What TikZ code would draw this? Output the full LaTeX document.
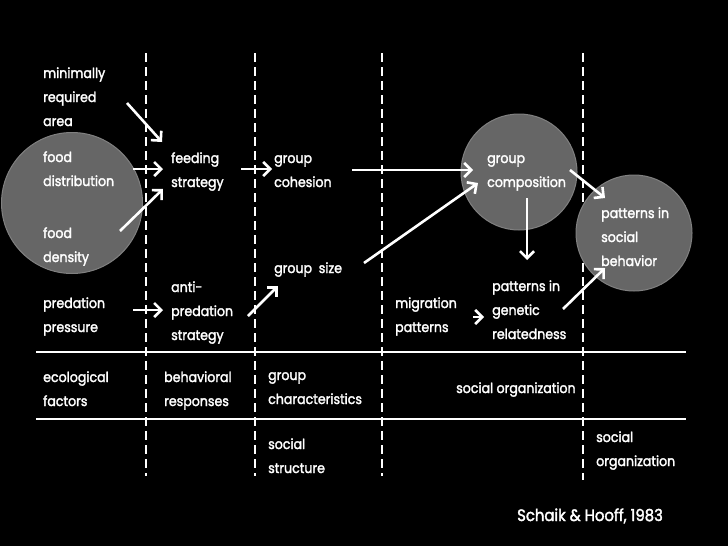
\documentclass[tikz,border=0pt]{standalone}
\usepackage{fontspec}
\setmainfont{Poppins}[FakeStretch=0.9,FakeBold=2]
\usetikzlibrary{arrows.meta}
\definecolor{discfill}{HTML}{666666}
\definecolor{discedge}{HTML}{808080}
\tikzset{
  lbl/.style={anchor=base west, inner sep=0pt, align=left, text=white,
    font=\fontsize{14}{24}\selectfont},
  flow/.style={white, line width=2.6pt, -{Straight Barb[length=7pt,width=14pt]}},
  divider/.style={white, line width=2.8pt, dash pattern=on 9pt off 5pt},
  band/.style={white, line width=2.6pt},
  blob/.style={circle, fill=discfill, draw=discedge, line width=1pt, inner sep=0pt}
}
\begin{document}
\begin{tikzpicture}[x=1pt,y=-1pt]
\fill[black] (0,0) rectangle (728,546);
\useasboundingbox (0,0) rectangle (728,546);
% circles
\node[blob, minimum size=141pt] (ecoblob) at (72,203) {};
\node[blob, minimum size=116pt] (compblob) at (519,172) {};
% columns and bands
\foreach \cx in {146,255,382}
  \draw[divider] (\cx,53) -- (\cx,476);
\draw[divider] (583,53) -- (583,480);
\node[blob, minimum size=116pt] (socblob) at (634,233) {};
\draw[band] (36,352) -- (686,352);
\draw[band] (36,419) -- (686,419);
% texts (placed at the baseline of their last line)
\node[lbl] (area) at (43,126) {minimally\\required\\area};
\node[lbl] (fooddist) at (43,186) {food\\distribution};
\node[lbl] (fooddens) at (43,262) {food\\density};
\node[lbl] (predation) at (43,332) {predation\\pressure};
\node[lbl] (feeding) at (171,187) {feeding\\strategy};
\node[lbl] (antipred) at (171,340) {anti-\\predation\\strategy};
\node[lbl] (cohesion) at (274,187) {group\\cohesion};
\node[lbl] (size) at (274,273) {group\ \ size};
\node[lbl] (migration) at (395,332) {migration\\patterns};
\node[lbl] (genetic) at (492,339) {patterns in\\genetic\\relatedness};
\node[lbl] (composition) at (487,187) {group\\composition};
\node[lbl] (behavior) at (601,266) {patterns in\\social\\behavior};
\node[lbl] (ecofactors) at (43,406) {ecological\\factors};
\node[lbl] (responses) at (164,406) {behavioral\\responses};
\node[lbl] (characteristics) at (268,404) {group\\characteristics};
\node[lbl] (socorg) at (456,393) {social organization};
\node[lbl] (structure) at (268,473) {social\\structure};
\node[lbl] (socorgb) at (596,466) {social\\organization};
\node[lbl, font=\fontsize{16.5}{20}\selectfont] (source) at (517,521) {Schaik \& Hooff, 1983};
% arrows
\draw[flow] ([shift={(84,-23)}]area.base west) -- ([shift={(-9,-45)}]feeding.base west);
\draw[flow] ([shift={(90,-17)}]fooddist.base west) -- ([shift={(-8,-18)}]feeding.base west);
\draw[flow] ([shift={(77,-31)}]fooddens.base west) -- ([shift={(-8,2)}]feeding.base west);
\draw[flow] ([shift={(90,-22)}]predation.base west) -- ([shift={(-8,-30)}]antipred.base west);
\draw[flow] ([shift={(70,-18)}]feeding.base west) -- ([shift={(-2,-18)}]cohesion.base west);
\draw[flow] ([shift={(77,-24)}]antipred.base west) -- ([shift={(4,13)}]size.base west);
\draw[flow] ([shift={(78,-17)}]cohesion.base west) -- ([shift={(-14,-17)}]composition.base west);
\draw[flow] ([shift={(90,-10)}]size.base west) -- ([shift={(-9,-4)}]composition.base west);
\draw[flow] ([shift={(83,-17)}]composition.base west) -- ([shift={(4,-68)}]behavior.base west);
\draw[flow] ([shift={(40,11)}]composition.base west) -- ([shift={(35,-79)}]genetic.base west);
\draw[flow] ([shift={(78,-15)}]migration.base west) -- ([shift={(-8,-22)}]genetic.base west);
\draw[flow] ([shift={(71,-30)}]genetic.base west) -- ([shift={(4,2)}]behavior.base west);
\end{tikzpicture}
\end{document}
